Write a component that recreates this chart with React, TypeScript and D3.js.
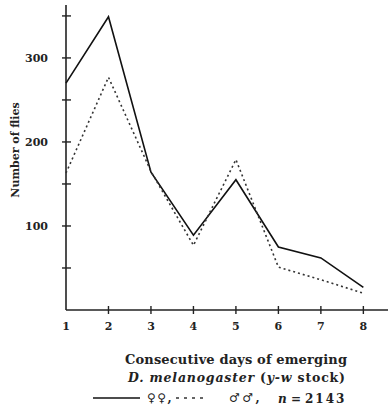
import React from "react";
import * as d3 from "d3";

// days 1..8, number of flies emerging
const days = [1, 2, 3, 4, 5, 6, 7, 8];
const females = [270, 349, 164, 89, 155, 75, 62, 27];
const males = [163, 277, 165, 77, 179, 51, 36, 20];
const yLabelTicks = [100, 200, 300];
const yMinorTicks = [50, 150, 250, 350];

const W = 388;
const H = 407;
const FONT = "'DejaVu Serif', 'Liberation Serif', serif";

export default function App() {
  const x = d3.scaleLinear().domain([1, 8.58]).range([66, 388]);
  const y = d3.scaleLinear().domain([0, 363]).range([310, 5]);

  const line = d3
    .line<number>()
    .x((_, i) => x(days[i]))
    .y((d) => y(d));

  const allTicks = [...yLabelTicks, ...yMinorTicks];
  const txt = { fontFamily: FONT, fontWeight: "bold", fill: "#222" } as const;

  return (
    <div style={{ position: "absolute", left: 0, top: 0 }}>
      <svg width={W} height={H} style={{ display: "block", background: "#fff" }}>
        {/* axes */}
        <line x1={x(1)} x2={x(1)} y1={y(363)} y2={y(0)} stroke="#222" strokeWidth={1.6} />
        <line x1={x(1)} x2={W} y1={y(0)} y2={y(0)} stroke="#222" strokeWidth={1.6} />
        {allTicks.map((t) => (
          <line key={"yt" + t} x1={x(1) - 4} x2={x(1) + 5} y1={y(t)} y2={y(t)} stroke="#222" strokeWidth={1.4} />
        ))}
        {yLabelTicks.map((t) => (
          <text key={"yl" + t} x={x(1) - 18} y={y(t) + 4} textAnchor="end" fontSize={11} {...txt}>
            {t}
          </text>
        ))}
        {days.slice(1).map((d) => (
          <line key={"xt" + d} x1={x(d)} x2={x(d)} y1={y(0) - 4} y2={y(0) + 4} stroke="#222" strokeWidth={1.4} />
        ))}
        {days.map((d) => (
          <text key={"xl" + d} x={x(d)} y={y(0) + 20} textAnchor="middle" fontSize={11} {...txt}>
            {d}
          </text>
        ))}
        <text transform={`translate(19,150) rotate(-90)`} textAnchor="middle" fontSize={11} {...txt}>
          Number of flies
        </text>

        {/* series */}
        <path d={line(females) ?? ""} fill="none" stroke="#111" strokeWidth={1.6} />
        <path d={line(males) ?? ""} fill="none" stroke="#333" strokeWidth={1.6} strokeDasharray="2,3" />

        {/* caption */}
        <text x={125} y={364} textLength={222} fontSize={13} {...txt}>
          Consecutive days of emerging
        </text>
        <text x={128} y={382} textLength={217} fontSize={12.5} {...txt}>
          <tspan fontStyle="italic">D. melanogaster</tspan>
          <tspan> (</tspan>
          <tspan fontStyle="italic">y-w</tspan>
          <tspan> stock)</tspan>
        </text>

        {/* legend */}
        <line x1={93} x2={140} y1={398} y2={398} stroke="#111" strokeWidth={1.4} />
        <text x={147} y={402} fontSize={12} letterSpacing={1.5} {...txt}>
          ♀♀,
        </text>
        <line x1={176} x2={207} y1={398} y2={398} stroke="#333" strokeWidth={1.6} strokeDasharray="3,5" />
        <text x={229} y={402} fontSize={12} letterSpacing={2.5} {...txt}>
          ♂♂,
        </text>
        <text x={278} y={403} fontSize={12} fontStyle="italic" {...txt}>
          n
        </text>
        <text x={291} y={403} fontSize={12} {...txt}>
          =
        </text>
        <text x={305} y={403} fontSize={12} letterSpacing={2} {...txt}>
          2143
        </text>
      </svg>
    </div>
  );
}
